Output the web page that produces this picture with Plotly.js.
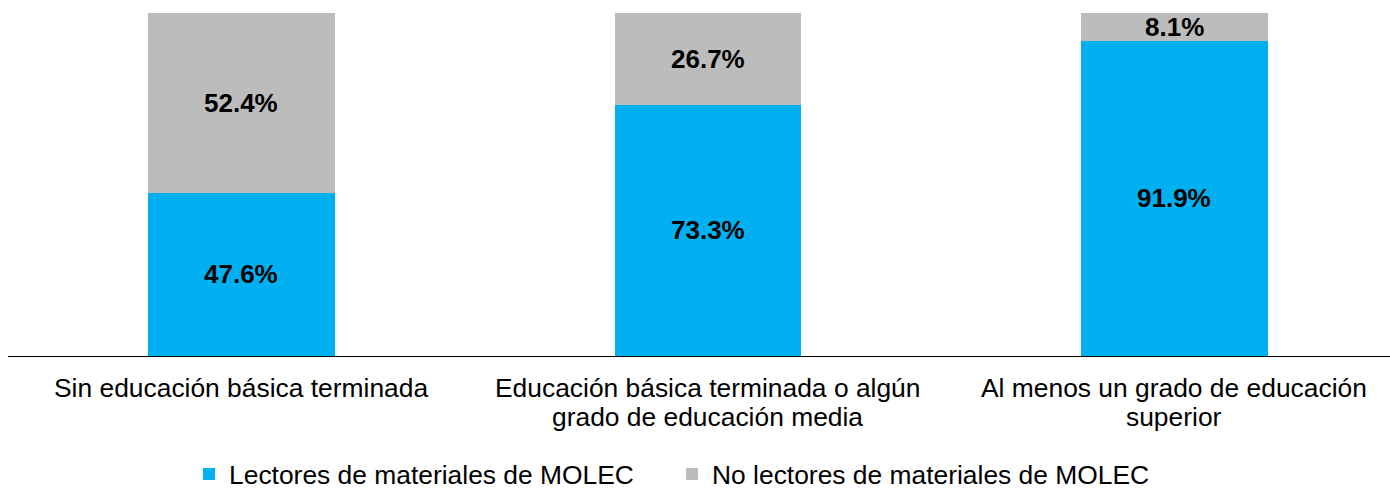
<!DOCTYPE html>
<html>
<head>
<meta charset="utf-8">
<script src="https://cdn.plot.ly/plotly-3.0.1.min.js"></script>
<style>html,body{margin:0;padding:0;background:#fff;}#chart{width:1390px;height:488px;}</style>
</head>
<body>
<div id="chart"></div>
<script>
const categories = [
  ["Sin educación básica terminada"],
  ["Educación básica terminada o algún", "grado de educación media"],
  ["Al menos un grado de educación", "superior"]
];
const lectores = [47.6, 73.3, 91.9];
const noLectores = [52.4, 26.7, 8.1];
const seriesNames = ["Lectores de materiales de MOLEC", "No lectores de materiales de MOLEC"];
const colors = ["#00B0F0", "#BCBCBC"];

const FONT = '"Liberation Sans", Arial, sans-serif';
const xs = categories.map((c, i) => i);

const traces = [
  {type: 'bar', x: xs, y: lectores, name: seriesNames[0], marker: {color: colors[0]}, width: 0.4, hoverinfo: 'none'},
  {type: 'bar', x: xs, y: noLectores, name: seriesNames[1], marker: {color: colors[1]}, width: 0.4, hoverinfo: 'none'}
];

const annotations = [];
xs.forEach(i => {
  annotations.push({x: i, y: lectores[i] / 2, xref: 'x', yref: 'y', text: '<b>' + lectores[i].toFixed(1) + '%</b>',
    showarrow: false, font: {family: FONT, size: 26, color: '#000'}});
  annotations.push({x: i, y: lectores[i] + noLectores[i] / 2, xref: 'x', yref: 'y', text: '<b>' + noLectores[i].toFixed(1) + '%</b>',
    showarrow: false, font: {family: FONT, size: 26, color: '#000'}});
  categories[i].forEach((line, k) => {
    annotations.push({x: i, y: 0, xref: 'x', yref: 'paper', yanchor: 'middle', yshift: -32 - 29 * k,
      text: line, showarrow: false, font: {family: FONT, size: 26.4, color: '#000'}});
  });
});

const layout = {
  width: 1390, height: 488,
  margin: {l: 8, r: 0, t: 13, b: 132, autoexpand: false},
  paper_bgcolor: '#fff', plot_bgcolor: '#fff',
  barmode: 'stack',
  showlegend: true,
  legend: {orientation: 'h', x: 0.131, xanchor: 'left', y: -0.345, yanchor: 'middle',
    font: {family: FONT, size: 26.4, color: '#000'}, entrywidth: 438, traceorder: 'normal'},
  xaxis: {range: [-0.5, 2.462], showline: true, linecolor: '#000', linewidth: 1, showticklabels: false,
    ticks: '', showgrid: false, zeroline: false, fixedrange: true},
  yaxis: {range: [0, 100], visible: false, showgrid: false, zeroline: false, fixedrange: true},
  annotations: annotations,
  font: {family: FONT}
};

Plotly.newPlot('chart', traces, layout, {displayModeBar: false, staticPlot: true});
</script>
</body>
</html>
